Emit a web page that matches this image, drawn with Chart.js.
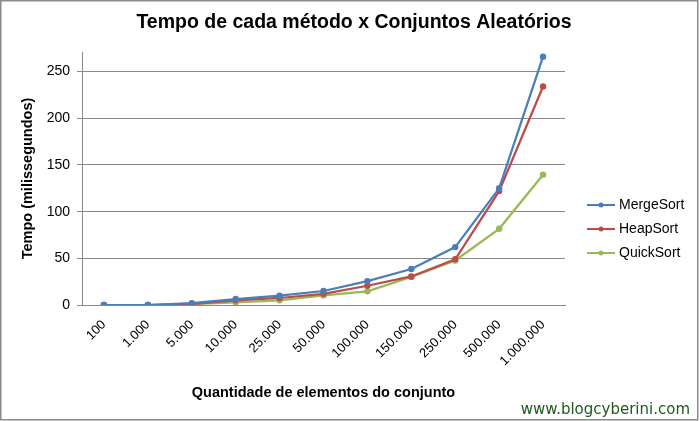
<!DOCTYPE html>
<html>
<head>
<meta charset="utf-8">
<script src="https://cdn.jsdelivr.net/npm/chart.js@4"></script>
<style>
html,body{margin:0;padding:0;background:#fff;}
#wrap{width:700px;height:421px;position:relative;}
</style>
</head>
<body>
<div id="wrap"><canvas id="c" width="700" height="421"></canvas></div>
<script>
const categories = ['100','1.000','5.000','10.000','25.000','50.000','100.000','150.000','250.000','500.000','1.000.000'];
const mergeSort = [0, 0, 2, 6.4, 10, 15, 25.6, 38.5, 62, 125, 266];
const heapSort  = [0, 0, 1, 5, 7.5, 12, 20.6, 30.6, 49, 122, 234];
const quickSort = [0, 0, 1, 2.8, 5, 10.3, 14.6, 30, 47.7, 81.6, 139.6];
const yTicks = [0, 50, 100, 150, 200, 250];

const seriesNames = ['MergeSort','HeapSort','QuickSort'];
const seriesColors = ['#4a7ebb','#be4b48','#98b954'];
const seriesData = [mergeSort, heapSort, quickSort];

const FONT = "'Liberation Sans', Arial, sans-serif";

const extras = {
  id: 'extras',
  afterDraw(chart) {
    const ctx = chart.ctx;
    ctx.save();
    // border
    ctx.strokeStyle = '#8a8a8a';
    ctx.lineWidth = 1.5;
    ctx.strokeRect(0.75, 0.75, 697, 419);
    // title
    ctx.fillStyle = '#000';
    ctx.font = "bold 19.5px " + FONT;
    ctx.textAlign = 'center';
    ctx.textBaseline = 'middle';
    ctx.fillText('Tempo de cada método x Conjuntos Aleatórios', 354, 23);
    // legend
    ctx.font = "14px " + FONT;
    ctx.textAlign = 'left';
    const ys = [205, 229, 253];
    seriesNames.forEach((n, i) => {
      ctx.strokeStyle = seriesColors[i];
      ctx.lineWidth = 2;
      ctx.beginPath();
      ctx.moveTo(587, ys[i]);
      ctx.lineTo(615, ys[i]);
      ctx.stroke();
      ctx.fillStyle = seriesColors[i];
      ctx.beginPath();
      ctx.arc(601, ys[i], 2.5, 0, Math.PI * 2);
      ctx.fill();
      ctx.fillStyle = '#000';
      ctx.fillText(n, 619, ys[i]);
    });
    // watermark
    ctx.fillStyle = '#1d5a1d';
    ctx.font = "15px 'DejaVu Sans', Verdana, sans-serif";
    ctx.textAlign = 'right';
    ctx.fillText('www.blogcyberini.com', 690, 410);
    ctx.restore();
  }
};

new Chart(document.getElementById('c'), {
  type: 'line',
  data: {
    labels: categories,
    datasets: seriesNames.map((n, i) => ({
      label: n,
      data: seriesData[i],
      borderColor: seriesColors[i],
      backgroundColor: seriesColors[i],
      borderWidth: 2.25,
      pointRadius: 3.2,
      pointHoverRadius: 3.2,
      pointBorderWidth: 0,
      tension: 0,
      fill: false
    }))
  },
  options: {
    responsive: false,
    animation: false,
    devicePixelRatio: 1,
    layout: { padding: { top: 52, left: 15, right: 135, bottom: 15 } },
    plugins: { legend: { display: false }, title: { display: false }, tooltip: { enabled: false } },
    scales: {
      x: {
        offset: true,
        grid: { display: false },
        border: { display: true, color: '#8a8a8a', width: 1 },
        ticks: { color: '#000', font: { family: FONT, size: 13 }, minRotation: 45, maxRotation: 45, padding: 4, autoSkip: false },
        title: { display: true, text: 'Quantidade de elementos do conjunto', color: '#000', font: { family: FONT, size: 14.5, weight: 'bold' }, padding: { top: 4, bottom: 4 } },
        afterFit(s) { s.height = 101; }
      },
      y: {
        min: 0,
        max: 271,
        afterBuildTicks(axis) { axis.ticks = yTicks.map(v => ({ value: v })); },
        grid: { color: '#8a8a8a', lineWidth: 1, tickLength: 5, drawTicks: true },
        border: { display: true, color: '#8a8a8a', width: 1 },
        ticks: { color: '#000', font: { family: FONT, size: 14 }, padding: 7 },
        title: { display: true, text: 'Tempo (milissegundos)', color: '#000', font: { family: FONT, size: 14.5, weight: 'bold' }, padding: { top: 4, bottom: 4 } },
        afterFit(s) { s.width = 67; }
      }
    }
  },
  plugins: [extras]
});
</script>
</body>
</html>
